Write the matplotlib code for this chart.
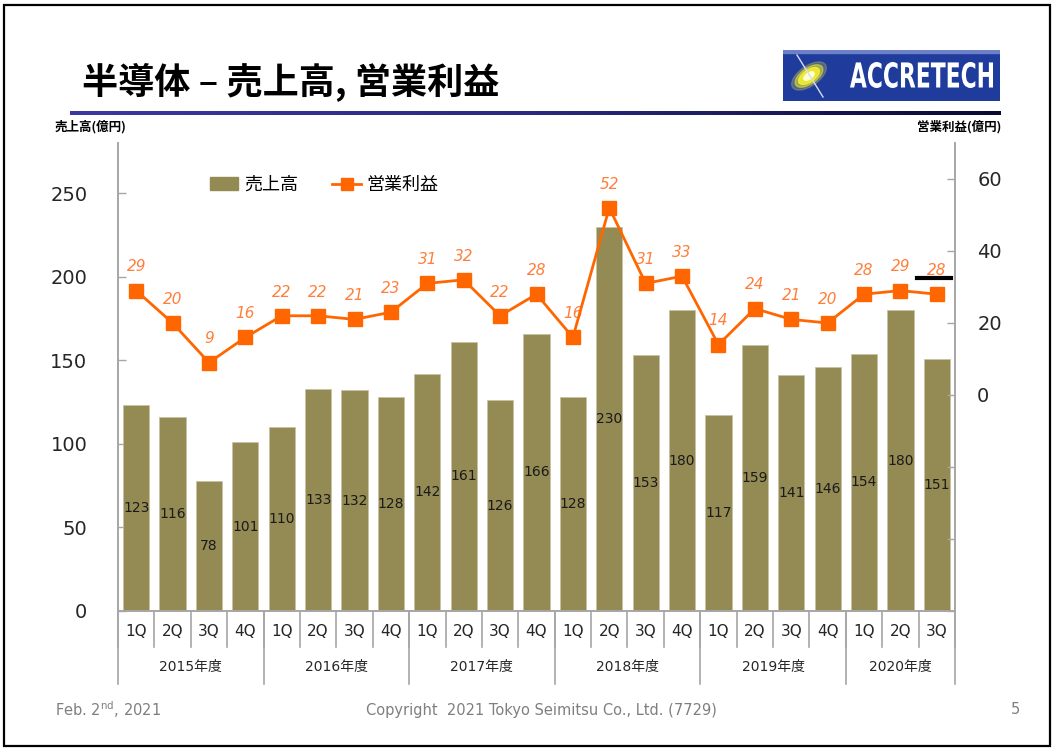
import numpy as np
import matplotlib
matplotlib.use("Agg")
import matplotlib.pyplot as plt
from matplotlib.patches import Rectangle, Ellipse, Patch, PathPatch
from matplotlib.lines import Line2D
from matplotlib.textpath import TextPath
from matplotlib.font_manager import FontProperties
from matplotlib.transforms import Affine2D

plt.rcParams["font.family"] = ["DejaVu Sans", "Noto Sans CJK JP"]
plt.rcParams["mathtext.fontset"] = "dejavusans"

JP = ["Noto Sans CJK JP", "DejaVu Sans"]

# -----------------------------------------------------------------------
# Data (億円)
# -----------------------------------------------------------------------
years = ["2015年度", "2016年度", "2017年度", "2018年度", "2019年度", "2020年度"]
quarters_per_year = [4, 4, 4, 4, 4, 3]
quarters = ["1Q", "2Q", "3Q", "4Q"] * 5 + ["1Q", "2Q", "3Q"]
sales = [123, 116, 78, 101, 110, 133, 132, 128, 142, 161, 126, 166,
         128, 230, 153, 180, 117, 159, 141, 146, 154, 180, 151]
profit = [29, 20, 9, 16, 22, 22, 21, 23, 31, 32, 22, 28,
          16, 52, 31, 33, 14, 24, 21, 20, 28, 29, 28]

BAR_C = "#948A54"
LINE_C = "#FF6600"
LABEL_C = "#FF7F3A"
AX_C = "#A6A6A6"

W, H = 1053, 749
fig = plt.figure(figsize=(W / 100, H / 100), dpi=100)


def fx(px):
    return px / W


def fy(py):
    return 1 - py / H


# slide frame
fig.patches.append(Rectangle((fx(4), fy(746)), fx(1046), fy(5) - fy(746),
                             transform=fig.transFigure, fill=False,
                             ec="black", lw=1.6))

# title
fig.text(fx(82), fy(83), "半導体 – 売上高, 営業利益", family=JP,
         fontsize=26, fontweight="bold", va="center", ha="left")

# gradient rule under title
ax_g = fig.add_axes([fx(70), fy(115), fx(930), fy(111) - fy(115)])
grad = np.linspace(0, 1, 256).reshape(1, -1)
cmap = matplotlib.colors.LinearSegmentedColormap.from_list(
    "rule", ["#3A3AA0", "#2A2A80", "#0A0A30"])
ax_g.imshow(grad, aspect="auto", cmap=cmap)
ax_g.axis("off")

# logo
ax_l = fig.add_axes([fx(783), fy(101), fx(217), fy(50) - fy(101)])
ax_l.set_xlim(0, 217)
ax_l.set_ylim(0, 51)
ax_l.add_patch(Rectangle((0, 0), 217, 51, color="#1F3C9C"))
ax_l.add_patch(Rectangle((0, 48), 217, 3, color="#6C80C8"))
for w_, a_, c_ in [(40, 0.25, "#E8E040"), (32, 0.5, "#F2EE30"),
                   (24, 0.9, "#F2EE30"), (12, 1.0, "#FFFFD0")]:
    ax_l.add_patch(Ellipse((26, 25), w_, w_ * 0.5, angle=35, color=c_,
                           alpha=a_))
ax_l.plot([14, 40], [46, 4], color="#D8DCF0", lw=1.0)
tp = TextPath((0, 0), "ACCRETECH", size=1,
              prop=FontProperties(family="DejaVu Sans", weight="bold"))
ext = tp.get_extents()
sx = (210 - 67) / ext.width
sy = (39 - 13) / ext.height
tr = Affine2D().translate(-ext.x0, -ext.y0).scale(sx, sy).translate(67, 13)
ax_l.add_patch(PathPatch(tr.transform_path(tp), color="white", lw=0))
ax_l.axis("off")

# -----------------------------------------------------------------------
# Chart
# -----------------------------------------------------------------------
ax = fig.add_axes([fx(118), fy(611), fx(955) - fx(118), fy(143) - fy(611)])
ax2 = ax.twinx()
ax.set_zorder(1)
ax2.set_zorder(2)
ax.patch.set_visible(False)

x = np.arange(len(sales))
ax.bar(x, sales, width=0.72, color=BAR_C, edgecolor="#C8C2A0", lw=0.5,
       zorder=2)
for xi, v in zip(x, sales):
    ax.text(xi, v / 2, str(v), ha="center", va="center", fontsize=10,
            color="#1A1A1A", zorder=3)

ax.set_xlim(-0.5, len(sales) - 0.5)
ax.set_ylim(0, 280)
ax.set_yticks([0, 50, 100, 150, 200, 250])
ax.set_xticks([])
ax.tick_params(axis="y", direction="in", length=6, width=1, color=AX_C,
               pad=22, labelsize=14, labelcolor="#262626")

ax2.plot(x, profit, color=LINE_C, lw=2, marker="s", markersize=10,
         zorder=4, clip_on=False)
for xi, v in zip(x, profit):
    ax2.annotate(str(v), (xi, v), xytext=(0, 17), textcoords="offset points",
                 ha="center", va="center", fontsize=11, style="italic",
                 color=LABEL_C)
ax2.set_ylim(-60, 70)
ax2.set_yticks([-60, -40, -20, 0, 20, 40, 60])
ax2.set_yticklabels(["", "", "", "0", "20", "40", "60"])
ax2.tick_params(axis="y", direction="in", length=6, width=1, color=AX_C,
                pad=16, labelsize=14, labelcolor="#262626")

for a in (ax, ax2):
    a.spines["top"].set_visible(False)
    for s in ("left", "right", "bottom"):
        a.spines[s].set_color(AX_C)
        a.spines[s].set_linewidth(1.2)

# black mark next to the last label
ax2.plot([0.955, 0.995], [0.712, 0.712], transform=ax2.transAxes,
         color="black", lw=3, zorder=5, clip_on=False)

# category axis: quarters and fiscal years
trans = ax.get_xaxis_transform()
y_q = (611 - 632) / 468
y_qsep = (611 - 647) / 468
y_yr = (611 - 667) / 468
y_ysep = (611 - 684) / 468
for xi, q in zip(x, quarters):
    ax.text(xi, y_q, q, transform=trans, ha="center", va="center",
            fontsize=11, color="#262626")
bounds = np.concatenate([[0], np.cumsum(quarters_per_year)]) - 0.5
for b in np.arange(-0.5, len(sales), 1.0):
    ax.plot([b, b], [0, y_qsep], transform=trans, color=AX_C, lw=1.2,
            clip_on=False)
for b in bounds:
    ax.plot([b, b], [0, y_ysep], transform=trans, color=AX_C, lw=1.2,
            clip_on=False)
for i, yr in enumerate(years):
    ax.text((bounds[i] + bounds[i + 1]) / 2, y_yr, yr, transform=trans,
            ha="center", va="center", fontsize=10, color="#262626",
            family=["DejaVu Sans", "Noto Sans CJK JP"])

# legend
handles = [Patch(color=BAR_C, label="売上高"),
           Line2D([], [], color=LINE_C, lw=2, marker="s", markersize=9,
                  label="営業利益")]
leg = ax2.legend(handles=handles, ncol=2, loc="center left",
                 bbox_to_anchor=(0.09, 0.91), frameon=False,
                 prop={"family": JP, "size": 13}, handlelength=1.6,
                 handletextpad=0.3, columnspacing=1.9)

# axis unit labels
fig.text(fx(55), fy(127), "売上高(億円)", family=JP, fontsize=9,
         fontweight="bold", ha="left", va="center")
fig.text(fx(1001), fy(127), "営業利益(億円)", family=JP, fontsize=9,
         fontweight="bold", ha="right", va="center")

# footer
FOOT_C = "#7F7F7F"
fig.text(fx(55), fy(710), r"Feb. 2$^{\mathrm{nd}}$, 2021", fontsize=10.5,
         color=FOOT_C, ha="left", va="center")
fig.text(fx(541), fy(710), "Copyright  2021 Tokyo Seimitsu Co., Ltd. (7729)",
         fontsize=10.5, color=FOOT_C, ha="center", va="center")
fig.text(fx(1015), fy(710), "5", fontsize=10.5, color=FOOT_C,
         ha="center", va="center")

fig.savefig("out.png", dpi=100)
